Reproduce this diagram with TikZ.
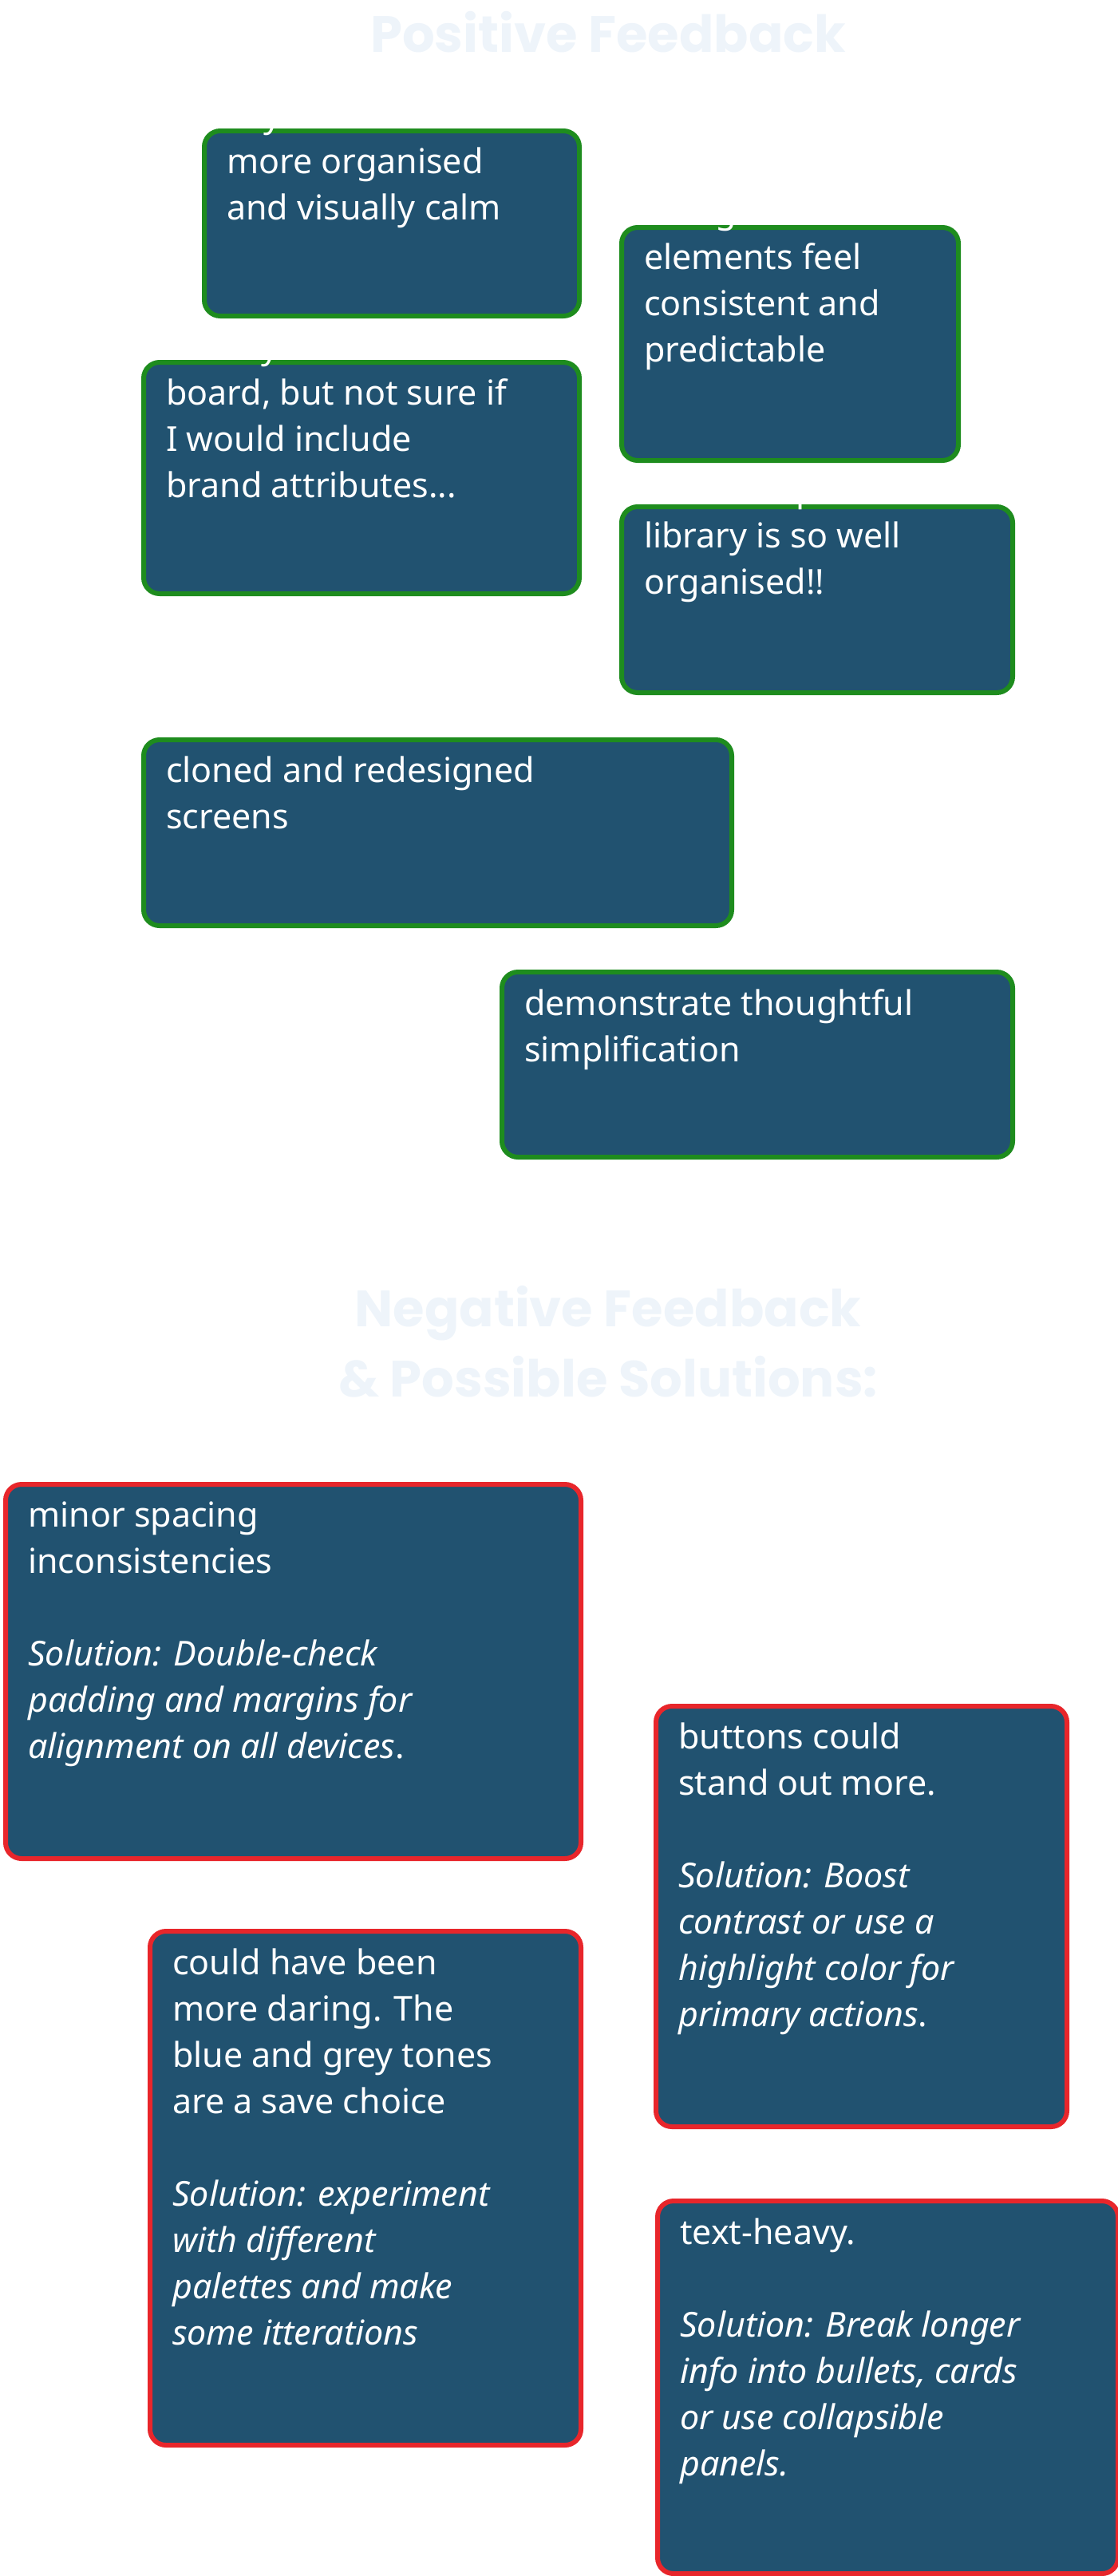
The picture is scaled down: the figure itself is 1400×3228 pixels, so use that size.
\documentclass[tikz,border=0pt]{standalone}
\usepackage{fontspec}
\setmainfont{Noto Sans}
\newfontfamily\headfont{Poppins}
\usetikzlibrary{positioning}
\definecolor{boxblue}{HTML}{215270}
\definecolor{goodgreen}{HTML}{1E8C1E}
\definecolor{badred}{HTML}{E8262B}
\definecolor{headwhite}{HTML}{EEF4FA}
\tikzset{
  card/.style={draw, line width=6pt, fill=boxblue, rounded corners=20pt, anchor=north west, inner sep=0pt},
  good/.style={card, draw=goodgreen},
  bad/.style={card, draw=badred},
  txt/.style={anchor=north west, text=white, inner sep=0pt, align=left,
    font=\fontsize{43}{58}\selectfont},
  head/.style={text=headwhite, align=center, font=\headfont\bfseries\fontsize{64}{88}\selectfont}
}
\begin{document}
\begin{tikzpicture}[x=1pt,y=-1pt]
            \useasboundingbox (0,0) rectangle (1400,3228);
            % Ueberschriften
            \node[head] (poshead) at (762,40) {Positive Feedback};
            \node[head] (neghead) at (762,1681) {Negative Feedback\\\& Possible Solutions:};
            %positive Karten:
            \node[good, minimum width=470, minimum height=232] (p1) at (253,161) {};
            \node[txt] (t1) at ([shift={(31,-34)}]p1.north west) {Layout is much\\more \textbf{organised}\\and visually \textbf{calm}};
            \node[good, minimum width=422, minimum height=292] (p2) at (776,282) {};
            \node[txt] (t2) at ([shift={(31,-34)}]p2.north west) {Navigation\\elements feel\\\textbf{consistent} and\\\textbf{predictable}};
            \node[good, minimum width=546, minimum height=290] (p3) at (177,451) {};
            \node[txt] (t3) at ([shift={(31,-34)}]p3.north west) {I love your mood\\board, but not sure if\\I would include\\brand attributes...};
            \node[good, minimum width=490, minimum height=233] (p4) at (776,632) {};
            \node[txt] (t4) at ([shift={(31,-34)}]p4.north west) {Your component\\library is so well\\\textbf{organised}!!};
            \node[good, minimum width=737, minimum height=233] (p5) at (177,924) {};
            \node[txt] (t5) at ([shift={(31,-34)}]p5.north west) {\textbf{Obvious distinction} between\\cloned and redesigned\\screens};
            \node[good, minimum width=640, minimum height=232] (p6) at (626,1215) {};
            \node[txt] (t6) at ([shift={(31,-34)}]p6.north west) {Your wireframes\\demonstrate \textbf{thoughtful}\\\textbf{simplification}};

            %negative Karten:
            \node[bad, minimum width=721, minimum height=469] (n1) at (4,1857) {};
            \node[txt] (m1) at ([shift={(31,-34)}]n1.north west) {Some screens still have\\minor \textbf{spacing}\\\textbf{inconsistencies}\\[58pt]\textit{Solution: Double-check}\\\textit{padding and margins for}\\\textit{alignment on all devices}.};
            \node[bad, minimum width=515, minimum height=527] (n2) at (819,2135) {};
            \node[txt] (m2) at ([shift={(31,-34)}]n2.north west) {\textbf{Call-to-action}\\\textbf{buttons} could\\stand out more.\\[58pt]\textit{Solution: Boost}\\\textit{contrast or use a}\\\textit{highlight color for}\\\textit{primary actions}.};
            \node[bad, minimum width=540, minimum height=644] (n3) at (185,2417) {};
            \node[txt] (m3) at ([shift={(31,-34)}]n3.north west) {\textbf{The use of colours}\\\textbf{could have been}\\\textbf{more daring. The}\\\textbf{blue and grey tones}\\\textbf{are a save choice}\\[58pt]\textit{Solution: experiment}\\\textit{with different}\\\textit{palettes and make}\\\textit{some itterations}};
            \node[bad, minimum width=577, minimum height=467] (n4) at (821,2755) {};
            \node[txt] (m4) at ([shift={(31,-34)}]n4.north west) {A few sections feel\\\textbf{text-heavy.}\\[58pt]\textit{Solution: Break longer}\\\textit{info into bullets, cards}\\\textit{or use collapsible}\\\textit{panels.}};
\end{tikzpicture}
\end{document}
